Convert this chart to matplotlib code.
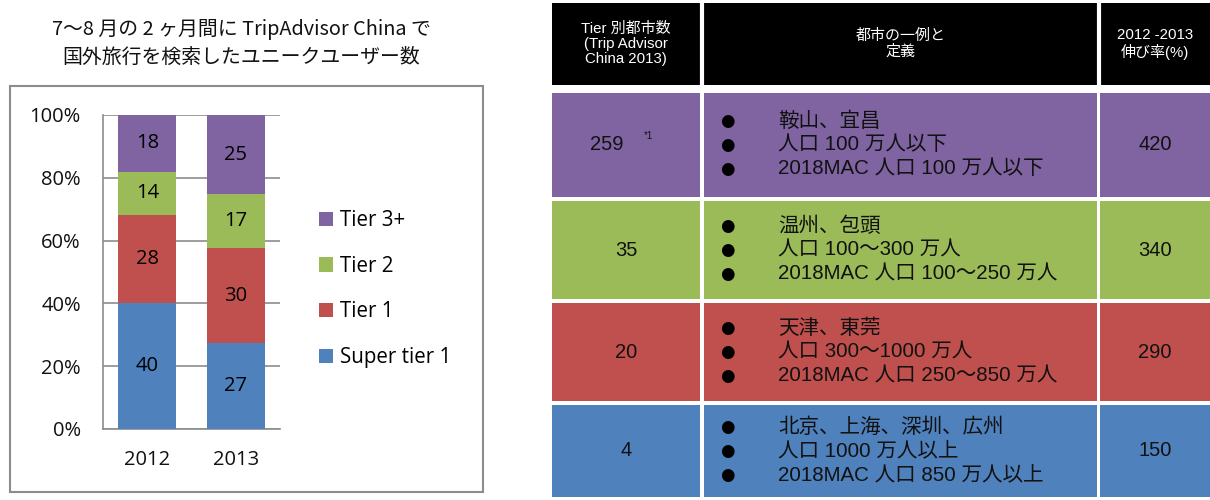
import matplotlib
matplotlib.use("Agg")
import matplotlib.pyplot as plt
from matplotlib.patches import Rectangle
import numpy as np

# ---------------- data ----------------
years = ["2012", "2013"]
series_names = ["Super tier 1", "Tier 1", "Tier 2", "Tier 3+"]
super_tier1 = [40, 27]
tier1 = [28, 30]
tier2 = [14, 17]
tier3 = [18, 25]
colors = ["#4F81BD", "#C0504D", "#9BBB59", "#8064A2"]

title_lines = ["7〜8 月の 2 ヶ月間に TripAdvisor China で", "国外旅行を検索したユニークユーザー数"]

header_texts = ["Tier 別都市数\n(Trip Advisor\nChina 2013)", "都市の一例と\n定義", "2012 -2013\n伸び率(%)"]
city_counts = ["259", "35", "20", "4"]
city_examples = ["鞍山、宜昌", "温州、包頭", "天津、東莞", "北京、上海、深圳、広州"]
population_def = ["人口 100 万人以下", "人口 100～300 万人", "人口 300～1000 万人", "人口 1000 万人以上"]
mac_def = ["2018MAC 人口 100 万人以下", "2018MAC 人口 100～250 万人", "2018MAC 人口 250～850 万人", "2018MAC 人口 850 万人以上"]
growth = ["420", "340", "290", "150"]
row_colors = ["#8064A2", "#9BBB59", "#C0504D", "#4F81BD"]
footnote_mark = "*1"

W, H = 1210, 500
fig = plt.figure(figsize=(W / 100, H / 100), dpi=100)

chart_font = ["Open Sans", "Noto Sans CJK JP", "DejaVu Sans"]
tbl_font = ["Liberation Sans", "Noto Sans CJK JP", "DejaVu Sans"]

# background/pixel axes
bg = fig.add_axes([0, 0, 1, 1])
bg.set_xlim(0, W)
bg.set_ylim(H, 0)
bg.axis("off")

# chart frame
bg.add_patch(Rectangle((10, 86), 473, 406, fill=False, edgecolor="#8C8C8C", lw=1.5))

# title
for i, t in enumerate(title_lines):
    bg.text(241, 30 + i * 27, t, ha="center", va="center", fontsize=14.3,
            family=["Noto Sans CJK JP", "DejaVu Sans"], color="#111111")

# ---------------- table ----------------
cols = [(552, 700), (704, 1097), (1100, 1210)]
bg.add_patch(Rectangle((552, 3), 1210 - 552, 82, color="black", lw=0))
for (x0, x1), txt in zip(cols, header_texts):
    bg.text((x0 + x1) / 2, 44, txt, ha="center", va="center", fontsize=10.8,
            color="white", family=tbl_font, linespacing=1.1)
# vertical white separators in header
for xs in (701.5, 1098.5):
    bg.plot([xs, xs], [3, 85], color="white", lw=3)

rows_y = [(93, 197), (201, 299), (303, 401), (405, 497)]
for i, (y0, y1) in enumerate(rows_y):
    for (x0, x1) in cols:
        bg.add_patch(Rectangle((x0, y0), x1 - x0, y1 - y0, color=row_colors[i], lw=0))
    yc = (y0 + y1) / 2
    bg.text(626 if i else 607, yc, city_counts[i], ha="center", va="center",
            fontsize=14.5, family=tbl_font, color="#111111")
    bg.text(1155, yc, growth[i], ha="center", va="center", fontsize=14.5,
            family=tbl_font, color="#111111")
    lines = [city_examples[i], population_def[i], mac_def[i]]
    for j, ln in enumerate(lines):
        yy = yc + (j - 1) * 24
        bg.text(727, yy, "●", ha="center", va="center", fontsize=12,
                family=["DejaVu Sans"], color="black")
        bg.text(778, yy, ln, ha="left", va="center", fontsize=14.8,
                family=tbl_font, color="#111111")
bg.text(648, 136, footnote_mark, ha="center", va="center", fontsize=7,
        family=tbl_font, color="#111111")

# ---------------- stacked chart ----------------
ax_l, ax_b, ax_r, ax_t = 103, 429, 280, 115
ax = fig.add_axes([ax_l / W, 1 - ax_b / H, (ax_r - ax_l) / W, (ax_b - ax_t) / H])
data = np.array([super_tier1, tier1, tier2, tier3], dtype=float)
totals = data.sum(axis=0)
pct = data / totals * 100
x = np.arange(len(years))
bottom = np.zeros(len(years))
for k in range(len(series_names)):
    ax.bar(x, pct[k], 0.65, bottom=bottom, color=colors[k], label=series_names[k], zorder=3)
    for xi in range(len(years)):
        ax.text(x[xi], bottom[xi] + pct[k][xi] / 2, f"{int(data[k][xi])}", ha="center",
                va="center", fontsize=14.5, family=chart_font, color="black", zorder=4)
    bottom += pct[k]

ax.set_xlim(-0.5, 1.5)
ax.set_ylim(0, 100)
ax.set_yticks([0, 20, 40, 60, 80, 100])
ax.set_yticklabels([f"{v}%" for v in [0, 20, 40, 60, 80, 100]])
ax.set_xticks(x)
ax.set_xticklabels(years)
ax.grid(axis="y", color="#8C8C8C", lw=1.2, zorder=0)
ax.set_axisbelow(True)
for s in ["top", "right"]:
    ax.spines[s].set_visible(False)
for s in ["left", "bottom"]:
    ax.spines[s].set_color("#8C8C8C")
    ax.spines[s].set_linewidth(1.2)
ax.tick_params(axis="both", length=0, labelsize=14.5)
ax.tick_params(axis="y", pad=16)
ax.tick_params(axis="x", pad=15)
for lab in ax.get_xticklabels() + ax.get_yticklabels():
    lab.set_family(chart_font)
    lab.set_color("#111111")

handles, labels = ax.get_legend_handles_labels()
fig.legend(handles[::-1], labels[::-1], loc="center left",
           bbox_to_anchor=(319 / W, 1 - 289 / H), frameon=False,
           prop={"family": chart_font, "size": 14.8},
           handlelength=0.7, handleheight=0.7, handletextpad=0.3,
           labelspacing=1.2, borderpad=0, borderaxespad=0)

fig.savefig("out.png", dpi=100)
